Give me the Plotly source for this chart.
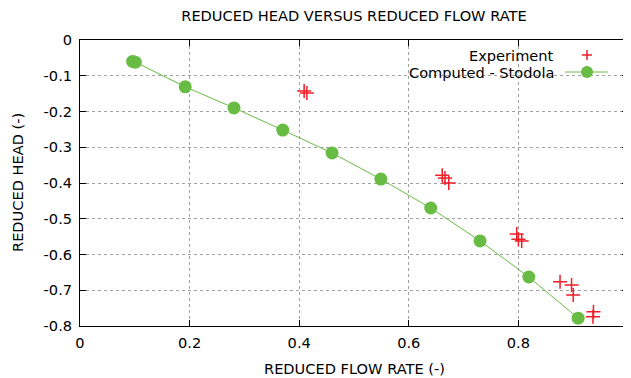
import plotly.graph_objects as go

# Computed - Stodola
comp_x = [0.096, 0.101, 0.192, 0.281, 0.370, 0.460, 0.549, 0.640, 0.730, 0.819, 0.909]
comp_y = [-0.060, -0.062, -0.131, -0.190, -0.252, -0.316, -0.389, -0.470, -0.562, -0.663, -0.778]

# Experiment
exp_x = [0.409, 0.414, 0.661, 0.666, 0.673, 0.797, 0.800, 0.806, 0.876, 0.897, 0.900, 0.937, 0.936]
exp_y = [-0.143, -0.148, -0.378, -0.386, -0.400, -0.543, -0.557, -0.562, -0.676, -0.685, -0.713, -0.760, -0.774]

x_ticks = [0, 0.2, 0.4, 0.6, 0.8, 1]
x_labels = ["0", "0.2", "0.4", "0.6", "0.8", "1"]
y_ticks = [0, -0.1, -0.2, -0.3, -0.4, -0.5, -0.6, -0.7, -0.8]
y_labels = ["0", "-0.1", "-0.2", "-0.3", "-0.4", "-0.5", "-0.6", "-0.7", "-0.8"]

RED = "rgb(240,30,40)"
GREEN = "rgb(104,188,68)"
FONT = "DejaVu Sans"
FS = 14.6

# page body has an 8px margin: plot area should land at window x 80..628, y 40..326
OFF = 8
L, T, PW, PH = 80 - OFF, 40 - OFF, 548, 286
W, H = 631, 378

fig = go.Figure()
fig.add_trace(go.Scatter(x=exp_x, y=exp_y, mode="markers", name="Experiment",
                         marker=dict(symbol="cross-thin", size=10, line=dict(color=RED, width=1.5)),
                         showlegend=False))
fig.add_trace(go.Scatter(x=comp_x, y=comp_y, mode="lines+markers", name="Computed - Stodola",
                         line=dict(color=GREEN, width=1),
                         marker=dict(symbol="circle", size=13, color=GREEN),
                         showlegend=False))

axis_common = dict(showline=True, linecolor="black", linewidth=1, mirror="ticks",
                   ticks="inside", ticklen=6, tickcolor="black", automargin=False,
                   showgrid=True, gridcolor="rgb(160,160,160)", griddash="dot", gridwidth=1,
                   zeroline=False, tickfont=dict(family=FONT, size=FS, color="black"))

fig.update_layout(
    width=W, height=H,
    margin=dict(l=L, r=W - L - PW, t=T, b=H - T - PH),
    paper_bgcolor="white", plot_bgcolor="white",
    font=dict(family=FONT, size=FS, color="black"),
    title=dict(text="REDUCED HEAD VERSUS REDUCED FLOW RATE", x=(354 - OFF) / W, xanchor="center",
               y=1 - (16 - OFF) / H, yanchor="middle", font=dict(family=FONT, size=FS)),
    xaxis=dict(range=[0, 1], tickvals=x_ticks, ticktext=x_labels, ticklabelstandoff=3,
               **axis_common),
    yaxis=dict(range=[-0.8, 0], tickvals=y_ticks, ticktext=y_labels, ticklabelstandoff=4,
               **axis_common),
)

# helpers: window pixel -> paper coords
def px(x):
    return (x - 80) / PW

def py(y):
    return 1 - (y - 40) / PH

# axis titles
fig.add_annotation(x=px(354), y=py(368), xref="paper", yref="paper", text="REDUCED FLOW RATE (-)",
                   showarrow=False, xanchor="center", yanchor="middle", font=dict(family=FONT, size=FS))
fig.add_annotation(x=px(17), y=py(183), xref="paper", yref="paper", text="REDUCED HEAD (-)",
                   textangle=-90, showarrow=False, xanchor="center", yanchor="middle",
                   font=dict(family=FONT, size=FS))

# Legend (gnuplot style: text right-aligned, sample to the right)
fig.add_annotation(x=px(556), y=py(55), xref="paper", yref="paper", text="Experiment",
                   showarrow=False, xanchor="right", yanchor="middle", font=dict(family=FONT, size=FS))
fig.add_annotation(x=px(556), y=py(72), xref="paper", yref="paper", text="Computed - Stodola",
                   showarrow=False, xanchor="right", yanchor="middle", font=dict(family=FONT, size=FS))
# cross sample
fig.add_shape(type="line", xref="paper", yref="paper", x0=px(582), x1=px(592), y0=py(55), y1=py(55),
              line=dict(color=RED, width=1.5))
fig.add_shape(type="line", xref="paper", yref="paper", x0=px(587), x1=px(587), y0=py(50), y1=py(60),
              line=dict(color=RED, width=1.5))
# line + dot sample
fig.add_shape(type="line", xref="paper", yref="paper", x0=px(565), x1=px(608), y0=py(72), y1=py(72),
              line=dict(color=GREEN, width=1))
fig.add_shape(type="circle", xref="paper", yref="paper", x0=px(581), x1=px(593), y0=py(66), y1=py(78),
              fillcolor=GREEN, line=dict(color=GREEN, width=0))

fig.write_html("out.html")
